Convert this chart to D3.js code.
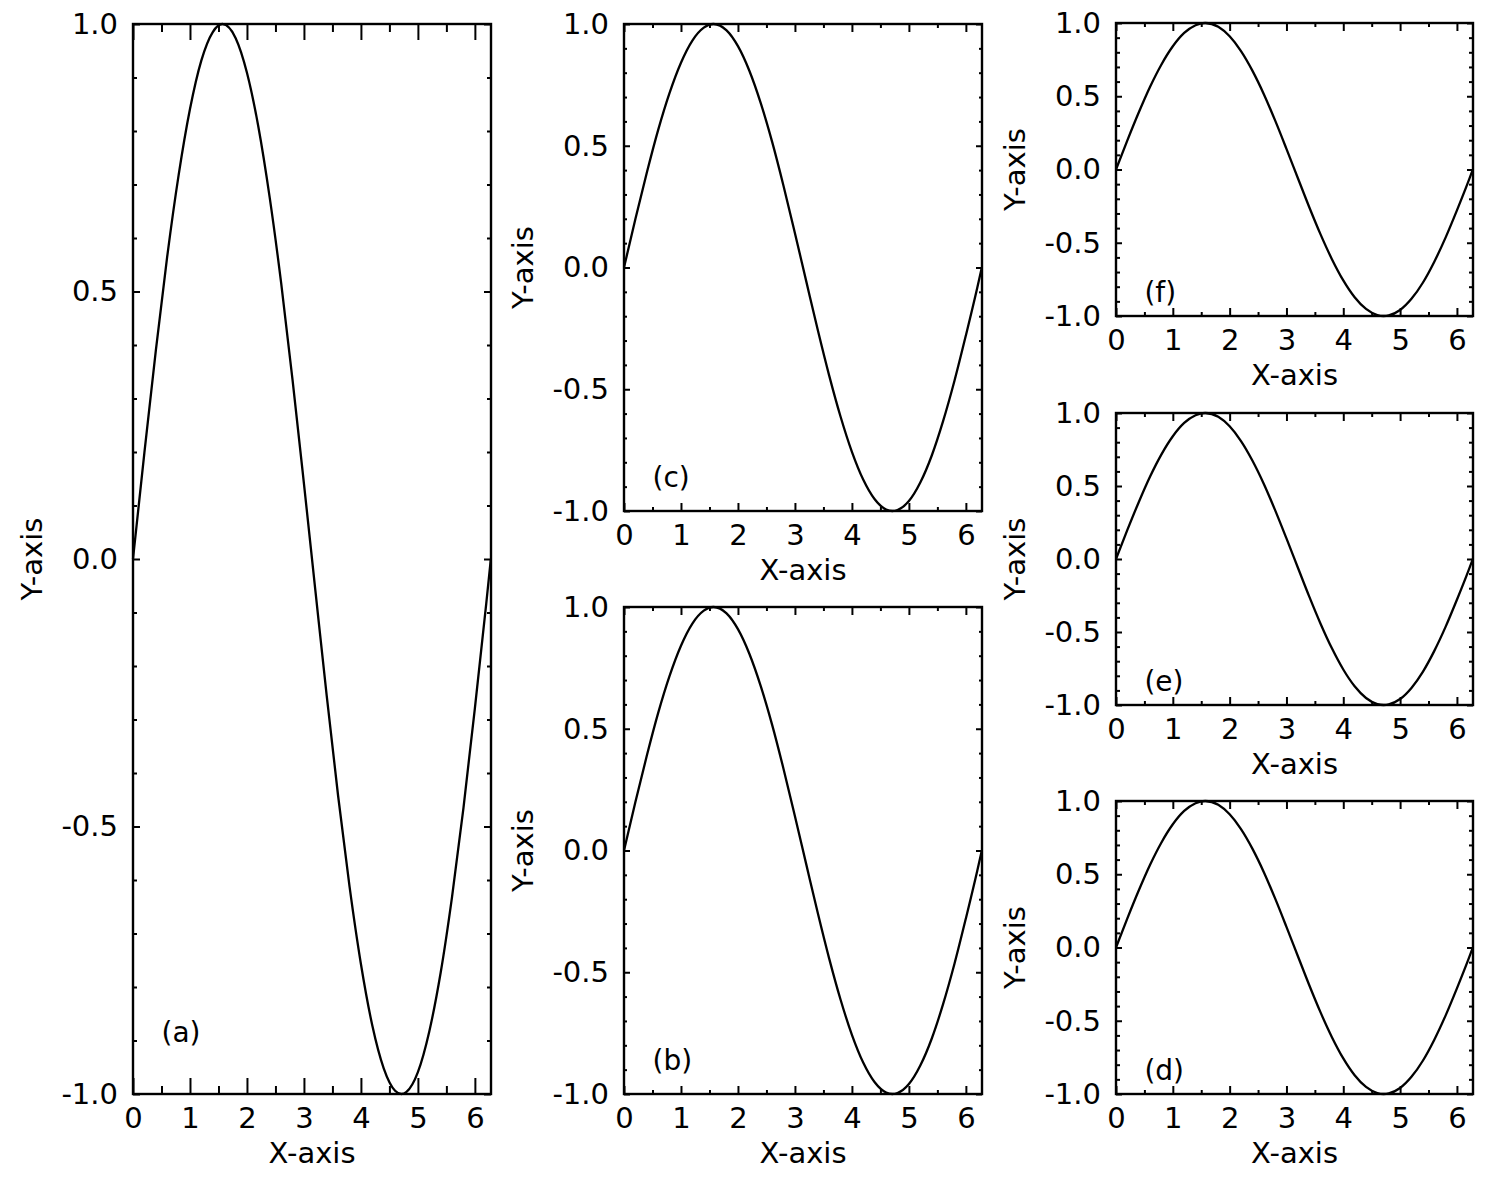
<!DOCTYPE html>
<html>
<head>
<meta charset="utf-8">
<script src="https://cdn.jsdelivr.net/npm/d3@7"></script>
<style>
  body { margin: 0; background: #fff; }
  svg text { font-family: "DejaVu Sans", sans-serif; fill: #000; }
</style>
</head>
<body>
<svg id="fig" width="1488" height="1190"></svg>
<script>
// curve (same curve in every panel)
var xValues = [0, 0.2, 0.4, 0.6, 0.8, 1.0, 1.2, 1.4, 1.57, 1.8, 2.0, 2.2, 2.4, 2.6, 2.8, 3.0,
    3.2, 3.4, 3.6, 3.8, 4.0, 4.2, 4.4, 4.6, 4.71, 4.8, 5.0, 5.2, 5.4, 5.6, 5.8, 6.0, 6.2, 6.28];
var yValues = [0, 0.199, 0.389, 0.565, 0.717, 0.841, 0.932, 0.985, 1.0, 0.974, 0.909, 0.808, 0.675, 0.516, 0.335, 0.141,
    -0.058, -0.256, -0.443, -0.612, -0.757, -0.872, -0.952, -0.994, -1.0, -0.996, -0.959, -0.883, -0.773, -0.631, -0.465, -0.279, -0.083, 0.0];

var xMajorTicks = [0, 1, 2, 3, 4, 5, 6];
var yMajorTicks = [-1.0, -0.5, 0.0, 0.5, 1.0];
var xDomain = [0, 6.283];
var yDomain = [-1, 1];
var panelLabels = ["(a)", "(c)", "(b)", "(f)", "(e)", "(d)"];
var xTitle = "X-axis";
var yTitle = "Y-axis";

// layout of each axes box (pixels)
var boxes = [
    { x0: 133, x1: 491, y0: 24, y1: 1094, xt: [16, 8], yt: [7, 4] },
    { x0: 624, x1: 982, y0: 24, y1: 511, xt: [8, 4], yt: [6, 3] },
    { x0: 624, x1: 982, y0: 607, y1: 1094, xt: [8, 4], yt: [6, 3] },
    { x0: 1116, x1: 1473, y0: 23, y1: 316, xt: [8, 4], yt: [6, 4] },
    { x0: 1116, x1: 1473, y0: 413, y1: 705, xt: [8, 4], yt: [6, 4] },
    { x0: 1116, x1: 1473, y0: 801, y1: 1094, xt: [8, 4], yt: [6, 4] }
];

var FONT = 29;
var xMinorTicks = d3.range(0.5, 6.3, 1);
var yMinorTicks = d3.range(-9, 10).map(function (d) { return d / 10; })
    .filter(function (d) { return Math.abs(d * 2 - Math.round(d * 2)) > 1e-6; });

var points = xValues.map(function (x, i) { return { x: x, y: yValues[i] }; });
var svg = d3.select("#fig");

boxes.forEach(function (b, i) {
    var w = b.x1 - b.x0, h = b.y1 - b.y0;
    var x = d3.scaleLinear().domain(xDomain).range([0, w]);
    var y = d3.scaleLinear().domain(yDomain).range([h, 0]);
    var g = svg.append("g").attr("transform", "translate(" + b.x0 + "," + b.y0 + ")");

    function fmt(d) { return d.toFixed(1); }

    // major ticks with labels (bottom / left), inward
    g.append("g").attr("transform", "translate(0," + h + ")")
        .call(d3.axisBottom(x).tickValues(xMajorTicks).tickSize(-b.xt[0]).tickPadding(13)
            .tickFormat(d3.format("d")));
    g.append("g")
        .call(d3.axisLeft(y).tickValues(yMajorTicks).tickSize(-b.yt[0]).tickPadding(15).tickFormat(fmt));
    // mirrored ticks (top / right)
    g.append("g")
        .call(d3.axisTop(x).tickValues(xMajorTicks).tickSize(-b.xt[0]).tickFormat(""));
    g.append("g").attr("transform", "translate(" + w + ",0)")
        .call(d3.axisRight(y).tickValues(yMajorTicks).tickSize(-b.yt[0]).tickFormat(""));
    // minor ticks
    g.append("g").attr("transform", "translate(0," + h + ")")
        .call(d3.axisBottom(x).tickValues(xMinorTicks).tickSize(-b.xt[1]).tickFormat(""));
    g.append("g")
        .call(d3.axisTop(x).tickValues(xMinorTicks).tickSize(-b.xt[1]).tickFormat(""));
    g.append("g")
        .call(d3.axisLeft(y).tickValues(yMinorTicks).tickSize(-b.yt[1]).tickFormat(""));
    g.append("g").attr("transform", "translate(" + w + ",0)")
        .call(d3.axisRight(y).tickValues(yMinorTicks).tickSize(-b.yt[1]).tickFormat(""));

    g.selectAll(".domain").remove();
    g.selectAll(".tick line").attr("stroke", "#000").attr("stroke-width", 2);
    g.selectAll(".tick text").style("font-size", FONT + "px").style("font-family", "DejaVu Sans");

    // curve
    g.append("path")
        .datum(points)
        .attr("fill", "none")
        .attr("stroke", "#000")
        .attr("stroke-width", 2.3)
        .attr("d", d3.line()
            .x(function (d) { return x(d.x); })
            .y(function (d) { return y(d.y); })
            .curve(d3.curveMonotoneX));

    // frame
    g.append("rect")
        .attr("width", w).attr("height", h)
        .attr("fill", "none").attr("stroke", "#000").attr("stroke-width", 2.4);

    // panel tag
    g.append("text")
        .attr("x", x(0.5))
        .attr("y", y(-1) - h * 0.049)
        .style("font-size", "28px")
        .text(panelLabels[i]);

    // axis titles
    g.append("text")
        .attr("x", w / 2).attr("y", h + 69)
        .attr("text-anchor", "middle")
        .style("font-size", FONT + "px")
        .text(xTitle);
    g.append("text")
        .attr("transform", "translate(-91," + (h / 2) + ") rotate(-90)")
        .attr("text-anchor", "middle")
        .style("font-size", FONT + "px")
        .text(yTitle);
});
</script>
</body>
</html>
